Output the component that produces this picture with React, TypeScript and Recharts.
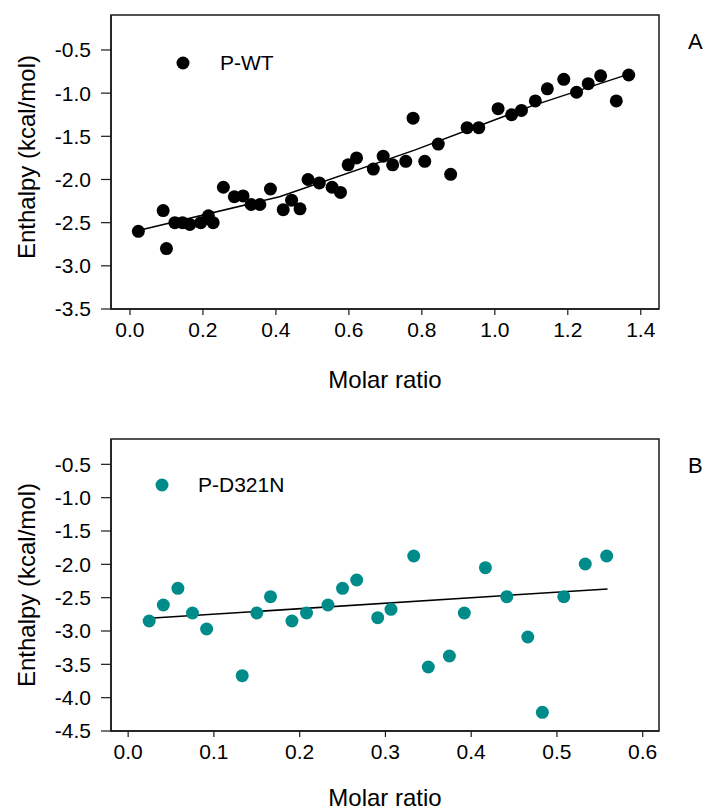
import React from 'react';
import { ComposedChart, Scatter, XAxis, YAxis, Legend, ReferenceArea } from 'recharts';

// ---------- Data ----------
const wtRatio = [0.023, 0.091, 0.1, 0.123, 0.144, 0.164, 0.194, 0.215, 0.228, 0.256, 0.286, 0.31, 0.332, 0.356, 0.385, 0.42, 0.443, 0.466, 0.488, 0.519, 0.554, 0.577, 0.598, 0.621, 0.667, 0.694, 0.72, 0.756, 0.776, 0.808, 0.845, 0.879, 0.924, 0.956, 1.009, 1.046, 1.073, 1.111, 1.144, 1.189, 1.224, 1.256, 1.29, 1.333, 1.367];
const wtEnthalpy = [-2.6, -2.36, -2.8, -2.5, -2.5, -2.52, -2.5, -2.42, -2.5, -2.09, -2.2, -2.19, -2.29, -2.29, -2.11, -2.35, -2.24, -2.34, -2.0, -2.04, -2.09, -2.15, -1.83, -1.75, -1.88, -1.73, -1.83, -1.79, -1.29, -1.79, -1.59, -1.94, -1.4, -1.4, -1.18, -1.25, -1.2, -1.09, -0.95, -0.84, -0.99, -0.89, -0.8, -1.09, -0.79];
const wtFitRatio = [0.023, 0.41, 0.78, 1.1, 1.367];
const wtFitEnthalpy = [-2.59, -2.2, -1.66, -1.15, -0.78];

const mutRatio = [0.0245, 0.041, 0.058, 0.075, 0.0915, 0.133, 0.15, 0.166, 0.191, 0.208, 0.233, 0.25, 0.2665, 0.291, 0.3065, 0.333, 0.35, 0.3746, 0.392, 0.4166, 0.4415, 0.466, 0.483, 0.508, 0.533, 0.558];
const mutEnthalpy = [-2.85, -2.61, -2.36, -2.73, -2.97, -3.67, -2.73, -2.485, -2.85, -2.73, -2.61, -2.36, -2.235, -2.8, -2.675, -1.875, -3.54, -3.375, -2.73, -2.05, -2.485, -3.09, -4.22, -2.485, -1.995, -1.875];
const mutFitRatio = [0.0245, 0.559];
const mutFitEnthalpy = [-2.81, -2.37];

const xTicksA = [0, 0.2, 0.4, 0.6, 0.8, 1.0, 1.2, 1.4];
const yTicksA = [-3.5, -3.0, -2.5, -2.0, -1.5, -1.0, -0.5];
const xTicksB = [0, 0.1, 0.2, 0.3, 0.4, 0.5, 0.6];
const yTicksB = [-4.5, -4.0, -3.5, -3.0, -2.5, -2.0, -1.5, -1.0, -0.5];

const FONT = "'Liberation Sans', Arial, Helvetica, sans-serif";
const AXIS = '#1a1a1a';

const zip = (xs: number[], ys: number[]) => xs.map((x, i) => ({ x, y: ys[i] }));
const fmt = (v: number) => v.toFixed(1);

type PanelProps = {
  top: number;
  height: number;
  marginTop: number;
  plotHeight: number;
  points: { x: number; y: number }[];
  fit: { x: number; y: number }[];
  color: string;
  name: string;
  letter: string;
  xDomain: [number, number];
  yDomain: [number, number];
  xTicks: number[];
  yTicks: number[];
  legendLeft: number;
  legendTop: number;
  legendGap: number;
  yLabelY: number;
  xLabelBaseline: number;
};

function Panel(p: PanelProps) {
  const xAxisHeight = p.height - p.marginTop - p.plotHeight;
  const dot = (props: any) => <circle cx={props.cx} cy={props.cy} r={6.5} fill={p.color} />;
  const noDot = () => <g />;
  const legendContent = (lp: any) => {
    const item = (lp.payload || []).find((it: any) => it.value === p.name) || { value: p.name, color: p.color };
    return (
      <div style={{ display: 'flex', alignItems: 'center', height: 26, fontFamily: FONT, fontSize: 21, color: '#000' }}>
        <svg width={14} height={14} style={{ display: 'block' }}>
          <circle cx={7} cy={7} r={6.5} fill={p.color} />
        </svg>
        <span style={{ marginLeft: p.legendGap, lineHeight: '26px' }}>{item.value}</span>
      </div>
    );
  };
  return (
    <div style={{ position: 'absolute', left: 0, top: p.top, width: 707, height: p.height }}>
      <ComposedChart width={707} height={p.height} margin={{ top: p.marginTop, right: 48, bottom: 0, left: 0 }}>
        <XAxis
          xAxisId="b"
          type="number"
          dataKey="x"
          domain={p.xDomain}
          ticks={p.xTicks}
          allowDataOverflow
          interval={0}
          tickFormatter={fmt}
          height={xAxisHeight}
          tickSize={6}
          tickMargin={7}
          axisLine={{ stroke: AXIS, strokeWidth: 1.5 }}
          tickLine={{ stroke: AXIS, strokeWidth: 1.2 }}
          tick={{ fill: '#000', fontSize: 21, fontFamily: FONT }}
          label={{
            content: () => (
              <text x={385} y={p.xLabelBaseline} textAnchor="middle" fontSize={24} fontFamily={FONT} fill="#000">
                Molar ratio
              </text>
            ),
          }}
        />
        <YAxis
          yAxisId="l"
          type="number"
          dataKey="y"
          domain={p.yDomain}
          ticks={p.yTicks}
          allowDataOverflow
          interval={0}
          tickFormatter={fmt}
          width={111}
          tickSize={10}
          tickMargin={10}
          axisLine={{ stroke: AXIS, strokeWidth: 1.5 }}
          tickLine={{ stroke: AXIS, strokeWidth: 1.2 }}
          tick={{ fill: '#000', fontSize: 21, fontFamily: FONT }}
          label={{
            content: () => (
              <text
                x={27}
                y={p.yLabelY}
                dy="0.35em"
                transform={`rotate(-90 27 ${p.yLabelY})`}
                textAnchor="middle"
                fontSize={24}
                fontFamily={FONT}
                fill="#000"
              >
                Enthalpy (kcal/mol)
              </text>
            ),
          }}
        />
        <ReferenceArea
          xAxisId="b"
          yAxisId="l"
          x1={p.xDomain[0]}
          x2={p.xDomain[1]}
          y1={p.yDomain[0]}
          y2={p.yDomain[1]}
          fill="none"
          fillOpacity={0}
          stroke={AXIS}
          strokeWidth={1.5}
          strokeOpacity={1}
          ifOverflow="visible"
        />
        <Legend
          layout="horizontal"
          verticalAlign="middle"
          align="center"
          content={legendContent}
          wrapperStyle={{ position: 'absolute', left: p.legendLeft, top: p.legendTop, width: 'auto', height: 26 }}
        />
        <Scatter
          name={p.name + ' fit'}
          legendType="none"
          xAxisId="b"
          yAxisId="l"
          data={p.fit}
          fill="#000"
          line={{ stroke: '#000', strokeWidth: 1.5 }}
          shape={noDot}
          isAnimationActive={false}
        />
        <Scatter
          name={p.name}
          xAxisId="b"
          yAxisId="l"
          data={p.points}
          fill={p.color}
          shape={dot}
          isAnimationActive={false}
        />
      </ComposedChart>
      <div
        style={{
          position: 'absolute',
          left: 688,
          top: p.marginTop + 15,
          fontFamily: FONT,
          fontSize: 22,
          lineHeight: '24px',
          color: '#000',
        }}
      >
        {p.letter}
      </div>
    </div>
  );
}

export default function App() {
  return (
    <div style={{ position: 'absolute', left: 0, top: 0, width: 707, height: 811, background: '#fff' }}>
      <Panel
        top={0}
        height={410}
        marginTop={15}
        plotHeight={294}
        points={zip(wtRatio, wtEnthalpy)}
        fit={zip(wtFitRatio, wtFitEnthalpy)}
        color="#000000"
        name="P-WT"
        letter="A"
        xDomain={[-0.052, 1.45]}
        yDomain={[-3.5, -0.095]}
        xTicks={xTicksA}
        yTicks={yTicksA}
        legendLeft={176}
        legendTop={50}
        legendGap={30}
        yLabelY={157}
        xLabelBaseline={388}
      />
      <Panel
        top={420}
        height={391}
        marginTop={19}
        plotHeight={292}
        points={zip(mutRatio, mutEnthalpy)}
        fit={zip(mutFitRatio, mutFitEnthalpy)}
        color="#008B8B"
        name="P-D321N"
        letter="B"
        xDomain={[-0.02, 0.619]}
        yDomain={[-4.5, -0.12]}
        xTicks={xTicksB}
        yTicks={yTicksB}
        legendLeft={155}
        legendTop={52}
        legendGap={29}
        yLabelY={165}
        xLabelBaseline={386}
      />
    </div>
  );
}
